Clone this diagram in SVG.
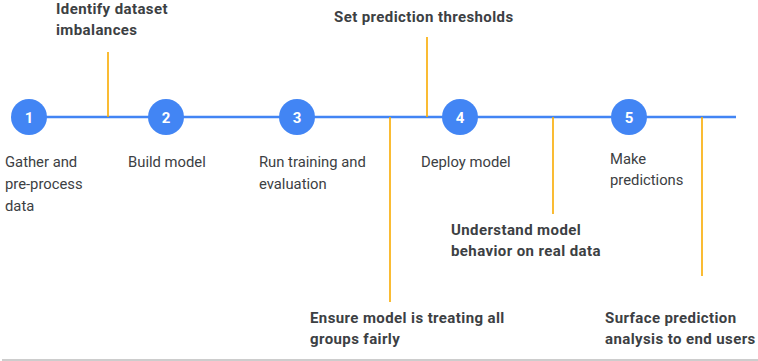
<svg xmlns="http://www.w3.org/2000/svg" width="758" height="361" viewBox="0 0 758 361">
  <style>
    .axis { stroke: #4285F4; stroke-width: 2.5; fill: none; }
    .tick { stroke: #F9AB00; stroke-width: 1.6; fill: none; }
    .dot { fill: #4285F4; }
    .num { font-family: Roboto, "Liberation Sans", sans-serif; font-size: 15px; font-weight: bold; fill: #ffffff; text-anchor: middle; }
    .step { font-family: Roboto, "Liberation Sans", sans-serif; font-size: 14.8px; fill: #3c4043; }
    .note { font-family: Roboto, "Liberation Sans", sans-serif; font-size: 15px; font-weight: bold; letter-spacing: 0.4px; fill: #3c4043; }
  </style>
  <rect width="758" height="361" fill="#ffffff"/>

  <!-- timeline and fairness checkpoints -->
  <g id="connectors">
    <line class="axis" x1="29" y1="117" x2="736" y2="117"/>
    <line class="tick" x1="108" y1="52" x2="108" y2="117"/>
    <line class="tick" x1="427" y1="37" x2="427" y2="117"/>
    <line class="tick" x1="390" y1="117" x2="390" y2="302"/>
    <line class="tick" x1="553" y1="117" x2="553" y2="214"/>
    <line class="tick" x1="702" y1="117" x2="702" y2="276"/>
  </g>

  <g id="step1">
    <circle class="dot" cx="29" cy="117" r="18"/>
    <text class="num" x="29" y="122.5">1</text>
    <text class="step" x="5" y="167">Gather and</text>
    <text class="step" x="5" y="189">pre-process</text>
    <text class="step" x="5" y="211">data</text>
  </g>
  <g id="step2">
    <circle class="dot" cx="166" cy="117" r="18"/>
    <text class="num" x="166" y="122.5">2</text>
    <text class="step" x="128" y="167">Build model</text>
  </g>
  <g id="step3">
    <circle class="dot" cx="297" cy="117" r="18"/>
    <text class="num" x="297" y="122.5">3</text>
    <text class="step" x="259" y="167">Run training and</text>
    <text class="step" x="259" y="189">evaluation</text>
  </g>
  <g id="step4">
    <circle class="dot" cx="460" cy="117" r="18"/>
    <text class="num" x="460" y="122.5">4</text>
    <text class="step" x="421" y="167">Deploy model</text>
  </g>
  <g id="step5">
    <circle class="dot" cx="629" cy="117" r="18"/>
    <text class="num" x="629" y="122.5">5</text>
    <text class="step" x="610" y="164">Make</text>
    <text class="step" x="610" y="185">predictions</text>
  </g>

  <g id="check-imbalances">
    <text class="note" x="56" y="13.5">Identify dataset</text>
    <text class="note" x="56" y="34.5">imbalances</text>
  </g>
  <g id="check-thresholds">
    <text class="note" x="334" y="22">Set prediction thresholds</text>
  </g>
  <g id="check-fairness">
    <text class="note" x="310" y="323">Ensure model is treating all</text>
    <text class="note" x="310" y="343.5">groups fairly</text>
  </g>
  <g id="check-behavior">
    <text class="note" x="451" y="235">Understand model</text>
    <text class="note" x="451" y="255.5">behavior on real data</text>
  </g>
  <g id="check-surface">
    <text class="note" x="605" y="323">Surface prediction</text>
    <text class="note" x="605" y="343.5">analysis to end users</text>
  </g>

  <line x1="2" y1="360" x2="758" y2="360" stroke="#bdbdbd" stroke-width="1.5"/>
</svg>
